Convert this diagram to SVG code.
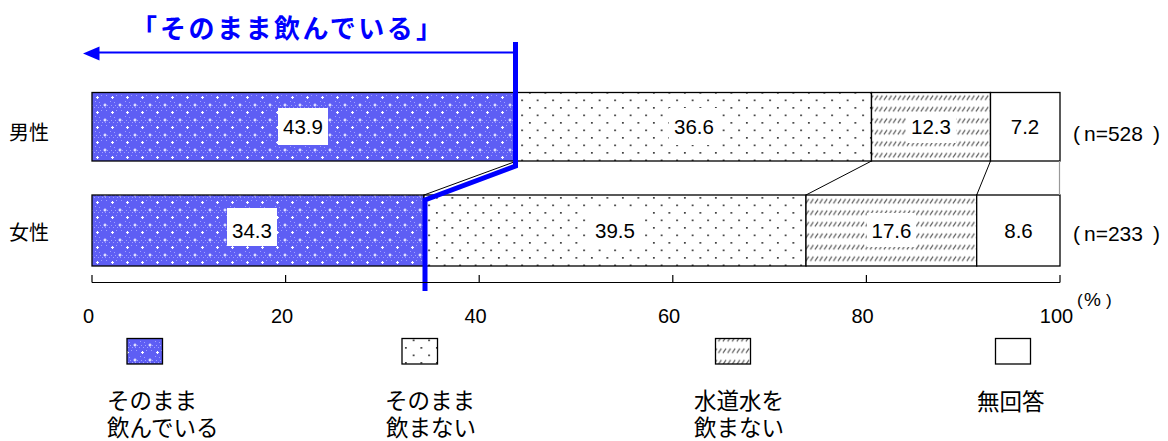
<svg xmlns="http://www.w3.org/2000/svg" width="1168" height="441" viewBox="0 0 1168 441">
<style>
text{font-family:"Liberation Sans","Noto Sans CJK JP",sans-serif;fill:#000}
.jp{font-family:"Noto Sans CJK JP","Liberation Sans",sans-serif}
.val{font-size:20.5px;text-anchor:middle}
.tick{font-size:20px;text-anchor:middle}
.leg{font-size:22.5px}
.nlab{font-size:21px}
.seg{stroke:#000;stroke-width:1.3}
.thin{stroke:#000;stroke-width:1;fill:none}
.box{fill:#fff}
</style>
<defs>
<pattern id="pBlue" width="15" height="15" patternUnits="userSpaceOnUse">
<rect width="15" height="15" fill="#5e5ef4"/>
<path d="M0,2h1v1h-1zM2,0h1v1h-1zM4,2h1v1h-1zM6,0h1v1h-1zM8,2h1v1h-1zM10,0h1v1h-1zM12,2h1v1h-1zM14,0h1v1h-1zM1,5h1v1h-1zM5,11h1v1h-1zM11,5h1v1h-1zM9,12h1v1h-1z" fill="#a0a0ff"/>
<path d="M-1.5,0h3M0,-1.5v3M13.5,0h3M15,-1.5v3M-1.5,15h3M0,13.5v3M13.5,15h3M15,13.5v3M6,7.5h3M7.5,6v3" stroke="#fff" stroke-width="1.1"/>
</pattern>
<pattern id="pDot" width="15.5" height="15" patternUnits="userSpaceOnUse">
<rect width="15.5" height="15" fill="#fff"/>
<rect x="2" y="2" width="1.7" height="1.7" fill="#333"/>
<rect x="9.75" y="9.5" width="1.7" height="1.7" fill="#333"/>
</pattern>
<pattern id="pHatch" width="4.6" height="11.5" patternUnits="userSpaceOnUse">
<rect width="4.6" height="11.5" fill="#fff"/>
<path d="M0.8,8 L3.8,3.5" stroke="#555" stroke-width="1.1"/>
</pattern>
</defs>

<g id="title">
<text class="jp" x="131" y="38" font-size="26" font-weight="700" style="fill:#0000ff">「</text>
<text class="jp" x="160" y="38" font-size="26" font-weight="700" letter-spacing="2.5" style="fill:#0000ff">そのまま飲んでいる</text>
<text class="jp" x="416" y="38" font-size="26" font-weight="700" style="fill:#0000ff">」</text>
</g>

<g id="row-male">
<text class="jp" x="9" y="140" font-size="20">男性</text>
<rect class="seg" x="92" y="92.5" width="424.8" height="68.5" fill="url(#pBlue)"/>
<rect class="seg" x="516.8" y="92.5" width="354.7" height="68.5" fill="url(#pDot)"/>
<rect class="seg" x="871.5" y="92.5" width="119" height="68.5" fill="url(#pHatch)"/>
<rect class="seg" x="990.5" y="92.5" width="69.5" height="68.5" fill="#fff"/>
<rect class="box" x="278" y="108" width="50" height="37"/>
<rect class="box" x="669" y="108" width="50" height="37"/>
<rect class="box" x="906" y="112" width="50" height="31"/>
<text class="val" x="303" y="134">43.9</text>
<text class="val" x="694" y="134">36.6</text>
<text class="val" x="931" y="134">12.3</text>
<text class="val" x="1025" y="134">7.2</text>
<text class="nlab" x="1073" y="140.5">(<tspan x="1084">n=528</tspan><tspan x="1153">)</tspan></text>
</g>

<g id="row-female">
<text class="jp" x="9" y="240" font-size="20">女性</text>
<rect class="seg" x="92" y="195" width="332" height="71" fill="url(#pBlue)"/>
<rect class="seg" x="424" y="195" width="382" height="71" fill="url(#pDot)"/>
<rect class="seg" x="806" y="195" width="170.7" height="71" fill="url(#pHatch)"/>
<rect class="seg" x="976.7" y="195" width="83.3" height="71" fill="#fff"/>
<rect class="box" x="227" y="208" width="50" height="38"/>
<rect class="box" x="590" y="212" width="50" height="36"/>
<rect class="box" x="867" y="213" width="49" height="34"/>
<text class="val" x="252" y="238">34.3</text>
<text class="val" x="615" y="238">39.5</text>
<text class="val" x="891.5" y="238">17.6</text>
<text class="val" x="1018.5" y="238">8.6</text>
<text class="nlab" x="1073" y="241">(<tspan x="1084">n=233</tspan><tspan x="1153">)</tspan></text>
</g>

<g id="connectors">
<line class="thin" x1="516.8" y1="161" x2="424" y2="195"/>
<line class="thin" x1="871.5" y1="161" x2="806" y2="195"/>
<line class="thin" x1="990.5" y1="161" x2="976.7" y2="195"/>
<line x1="1059.5" y1="161" x2="1059.5" y2="195" stroke="#999" stroke-width="1.2"/>
<polyline points="515.5,42 515.5,166 425,200 425,291" fill="none" stroke="#0000ff" stroke-width="5" stroke-linejoin="miter"/>
<line x1="515" y1="52.5" x2="97" y2="52.5" stroke="#0000ff" stroke-width="2"/>
<polygon points="83,53.5 99.5,46.5 99.5,60.5" fill="#0000ff"/>
</g>

<g id="axis">
<path d="M92,282.5H1060M92,275V282.5M285.6,275V282.5M479.2,275V282.5M672.8,275V282.5M866.4,275V282.5M1060,275V282.5" stroke="#000" stroke-width="1.2" fill="none"/>
<text class="tick" x="88.5" y="323">0</text>
<text class="tick" x="282" y="323">20</text>
<text class="tick" x="475.5" y="323">40</text>
<text class="tick" x="669" y="323">60</text>
<text class="tick" x="862.5" y="323">80</text>
<text class="tick" x="1056.5" y="323">100</text>
<text x="1077" y="306" font-size="17">(<tspan x="1084" font-size="19">%</tspan><tspan x="1106">)</tspan></text>
</g>

<g id="legend">
<rect class="seg" x="127" y="338.5" width="35.5" height="25.5" fill="url(#pBlue)"/>
<rect class="seg" x="402" y="338.5" width="35.5" height="25.5" fill="url(#pDot)"/>
<rect class="seg" x="715.5" y="338.5" width="35" height="25.5" fill="url(#pHatch)"/>
<rect class="seg" x="995.5" y="338.5" width="35" height="25.5" fill="#fff"/>
<text class="jp leg" x="107" y="409">そのまま</text>
<text class="jp leg" x="107" y="436">飲んでいる</text>
<text class="jp leg" x="385" y="409">そのまま</text>
<text class="jp leg" x="386" y="436">飲まない</text>
<text class="jp leg" x="694" y="409">水道水を</text>
<text class="jp leg" x="694" y="436">飲まない</text>
<text class="jp leg" x="977" y="410">無回答</text>
</g>
</svg>
